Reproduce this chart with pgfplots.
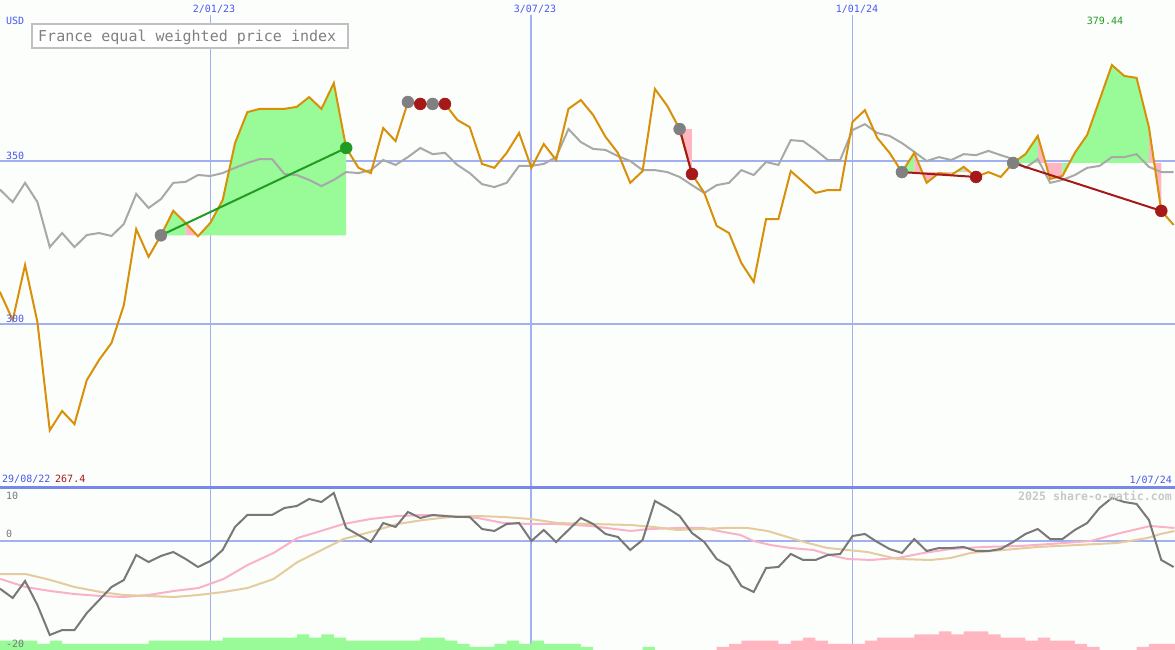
\documentclass[border=0pt]{standalone}
\usepackage{pgfplots}
\pgfplotsset{compat=1.18}
\usepackage{pgfplotstable}
\usepackage{fontspec}
\newfontfamily\mono{DejaVu Sans Mono}
\definecolor{orng}{RGB}{216,144,8}
\definecolor{gline}{RGB}{168,168,168}
\definecolor{dgrey}{RGB}{120,120,120}
\definecolor{pgreen}{RGB}{152,251,152}
\definecolor{ppink}{RGB}{255,182,193}
\definecolor{gridb}{RGB}{160,176,240}
\definecolor{sepb}{RGB}{120,136,232}
\definecolor{txtb}{RGB}{72,88,240}
\definecolor{dred}{RGB}{165,25,25}
\definecolor{dgreen}{RGB}{34,155,34}
\definecolor{dotgrey}{RGB}{128,128,128}
\definecolor{lpink}{RGB}{250,178,200}
\definecolor{tanc}{RGB}{228,204,158}
\definecolor{wm}{RGB}{200,200,200}
\definecolor{boxg}{RGB}{192,192,192}
\definecolor{bgc}{RGB}{252,254,252}
\newcommand\labf{\mono\fontsize{10bp}{12bp}\selectfont}

\pgfplotstableread{
i price ma
0 305.0 339.0
1 309.5 341.1
2 301.2 337.4
3 318.1 343.3
4 300.6 337.4
5 267.4 323.6
6 273.3 327.9
7 269.3 323.6
8 282.8 327.3
9 289.0 327.9
10 294.2 327.0
11 305.8 330.7
12 329.1 339.9
13 320.6 335.6
14 327.2 338.3
15 334.7 343.3
16 331.0 343.6
17 326.9 345.7
18 331.0 345.4
19 338.0 346.3
20 355.5 347.9
21 365.0 349.4
22 366.0 350.6
23 366.0 350.6
24 366.0 346.0
25 366.6 345.7
26 369.6 344.2
27 366.0 342.3
28 373.9 344.2
29 354.0 346.6
30 347.9 346.3
31 346.3 347.2
32 360.1 350.3
33 356.1 348.8
34 368.1 351.2
35 367.5 354.0
36 367.5 352.1
37 367.5 352.5
38 362.6 348.8
39 360.4 346.3
40 349.1 342.9
41 347.9 342.0
42 352.5 343.3
43 358.6 348.5
44 347.9 348.5
45 355.2 349.1
46 350.3 351.2
47 366.0 359.8
48 368.7 355.8
49 364.1 353.7
50 357.4 353.4
51 352.5 351.5
52 343.3 350.0
53 346.9 347.2
54 372.1 347.2
55 366.9 346.6
56 359.8 345.1
57 346.0 342.6
58 340.2 340.2
59 330.1 342.6
60 327.9 343.3
61 318.7 347.2
62 312.9 345.7
63 332.2 349.7
64 332.2 348.8
65 346.9 356.4
66 343.6 356.1
67 340.2 353.4
68 341.1 350.3
69 341.1 350.3
70 362.0 359.5
71 365.6 361.3
72 357.1 358.6
73 352.5 357.7
74 346.6 355.5
75 352.5 352.8
76 343.3 350.0
77 346.3 351.2
78 345.7 350.3
79 348.2 352.1
80 345.1 351.8
81 346.6 353.1
82 345.1 351.8
83 349.4 350.6
84 352.1 347.9
85 357.7 350.6
86 344.5 343.3
87 345.4 344.2
88 352.5 345.7
89 358.0 347.9
90 368.7 348.5
91 379.44 351.2
92 376.1 351.2
93 375.5 352.1
94 360.4 348.2
95 334.7 346.6
96 330.4 346.6
}\tblup

\pgfplotstableread{
i osc
0 -8.0
1 -8.97
2 -10.65
3 -7.48
4 -11.96
5 -17.57
6 -16.64
7 -16.64
8 -13.46
9 -11.03
10 -8.60
11 -7.29
12 -2.62
13 -3.93
14 -2.80
15 -2.06
16 -3.36
17 -4.86
18 -3.74
19 -1.68
20 2.62
21 4.86
22 4.86
23 4.86
24 6.17
25 6.54
26 7.85
27 7.29
28 8.97
29 2.43
30 1.12
31 -0.19
32 3.36
33 2.62
34 5.42
35 4.30
36 4.86
37 4.67
38 4.49
39 4.49
40 2.24
41 1.87
42 3.18
43 3.36
44 0.00
45 2.06
46 -0.19
47 2.06
48 4.30
49 3.18
50 1.31
51 0.75
52 -1.68
53 0.19
54 7.48
55 6.17
56 4.67
57 1.50
58 -0.19
59 -3.36
60 -4.67
61 -8.41
62 -9.53
63 -5.05
64 -4.86
65 -2.43
66 -3.55
67 -3.55
68 -2.62
69 -2.43
70 0.93
71 1.31
72 -0.19
73 -1.50
74 -2.24
75 0.37
76 -1.87
77 -1.31
78 -1.31
79 -1.12
80 -1.87
81 -1.87
82 -1.50
83 -0.19
84 1.31
85 2.24
86 0.37
87 0.37
88 2.06
89 3.36
90 6.17
91 8.04
92 7.29
93 6.92
94 3.93
95 -3.55
96 -4.86
}\tblosc

\pgfplotstableread{
i v
0.00 -6.80
1.01 -7.10
3.04 -8.60
5.06 -9.35
7.00 -9.91
9.11 -10.28
10.97 -10.47
12.99 -10.09
15.02 -9.35
17.04 -8.79
19.07 -7.10
21.01 -4.49
23.12 -2.24
25.06 0.56
26.68 1.68
28.79 3.18
30.97 4.11
33.16 4.67
35.26 4.86
37.45 4.67
39.64 4.30
41.74 3.36
43.93 3.18
46.11 3.18
48.79 2.80
52.02 1.87
53.64 2.24
55.83 2.43
57.94 2.43
59.55 1.68
60.93 1.12
61.98 0.00
63.36 -0.75
64.98 -1.31
66.84 -1.68
68.46 -2.80
69.60 -3.36
71.46 -3.55
73.64 -3.18
75.75 -2.24
77.94 -1.50
80.61 -1.12
83.60 -0.93
86.03 -0.56
89.27 0.00
91.70 1.50
94.13 2.80
96.07 2.43
}\tblpink

\pgfplotstableread{
i v
0.00 -6.17
1.01 -6.17
3.04 -6.17
5.06 -7.29
7.00 -8.60
9.11 -9.53
10.97 -10.09
12.99 -10.28
15.02 -10.47
17.04 -10.09
19.07 -9.53
21.01 -8.79
23.12 -7.10
25.06 -3.93
26.68 -2.06
28.79 0.37
30.97 1.68
33.16 3.18
35.26 3.93
37.45 4.49
39.64 4.67
41.74 4.49
43.93 4.11
46.11 3.36
48.79 3.18
52.02 2.99
53.89 2.62
55.83 2.06
57.69 2.24
59.55 2.43
61.50 2.43
63.12 1.87
64.74 0.75
66.36 -0.37
67.98 -1.31
69.60 -1.68
71.21 -2.06
73.64 -3.36
76.32 -3.55
77.94 -3.18
79.55 -2.24
82.23 -1.68
84.98 -1.12
88.22 -0.75
91.46 -0.37
93.89 0.56
94.94 1.31
96.07 1.87
}\tbltan

\pgfplotstableread{
i lev
0 3
1 3
2 3
3 3
4 2
5 3
6 2
7 2
8 2
9 2
10 2
11 2
12 2
13 3
14 3
15 3
16 3
17 3
18 3
19 4
20 4
21 4
22 4
23 4
24 4
25 5
26 4
27 5
28 4
29 3
30 3
31 3
32 3
33 3
34 3
35 4
36 4
37 3
38 2
39 1
40 1
41 2
42 3
43 2
44 3
45 2
46 2
47 2
48 1
49 0
50 0
51 0
52 0
53 1
54 0
}\tblgbar

\pgfplotstableread{
i lev
59 1
60 2
61 3
62 3
63 3
64 2
65 3
66 4
67 3
68 2
69 2
70 2
71 3
72 4
73 4
74 4
75 5
76 5
77 6
78 5
79 6
80 6
81 5
82 4
83 4
84 3
85 4
86 3
87 3
88 2
89 1
90 0
91 0
92 0
93 1
94 2
95 2
96 2
97 0
}\tblpbar

\begin{document}
\begin{tikzpicture}
\path[use as bounding box] (0,0) rectangle (1175bp,650bp);
\fill[bgc] (0,0) rectangle (1175bp,650bp);

% ---- bars (lower panel background)
\begin{axis}[at={(0,0)}, anchor=south west, scale only axis,
  width=1175bp, height=163bp, xmin=0.97, xmax=96.11, ymin=0, ymax=52.58,
  axis lines=none, ticks=none]
\draw[gridb, line width=1bp] (axis cs:18,0) -- (axis cs:18,52.58);
\draw[gridb, line width=2bp] (axis cs:44,0) -- (axis cs:44,52.58);
\draw[gridb, line width=1bp] (axis cs:70,0) -- (axis cs:70,52.58);
\addplot[const plot, fill=pgreen, draw=none] table[x=i, y=lev] {\tblgbar} \closedcycle;
\addplot[const plot, fill=ppink, draw=none] table[x=i, y=lev] {\tblpbar} \closedcycle;
\end{axis}

% ---- lower panel lines
\begin{axis}[at={(0,0)}, anchor=south west, scale only axis,
  width=1175bp, height=163bp, xmin=0.97, xmax=96.11, ymin=-20.37, ymax=10.09,
  axis lines=none, ticks=none]
\draw[gridb, line width=2bp] (axis cs:0.97,0) -- (axis cs:96.11,0);
\addplot[lpink, line width=2bp] table[x=i, y=v] {\tblpink};
\addplot[tanc, line width=2bp] table[x=i, y=v] {\tbltan};
\addplot[dgrey, line width=2bp] table[x=i, y=osc] {\tblosc};
\end{axis}

% ---- upper panel
\begin{axis}[at={(0,163bp)}, anchor=south west, scale only axis,
  width=1175bp, height=487bp, xmin=0.97, xmax=96.11, ymin=250, ymax=399.39,
  axis lines=none, ticks=none]
\draw[gridb, line width=2bp] (axis cs:0.97,350) -- (axis cs:96.11,350);
\draw[gridb, line width=2bp] (axis cs:0.97,300) -- (axis cs:96.11,300);
\draw[gridb, line width=1bp] (axis cs:18,394.8) -- (axis cs:18,250);
\draw[gridb, line width=2bp] (axis cs:44,394.8) -- (axis cs:44,250);
\draw[gridb, line width=1bp] (axis cs:70,394.8) -- (axis cs:70,250);
% trade 1 (base 327.2)
\addplot[fill=pgreen, draw=none] coordinates {(14,327.2) (15,334.7) (16,331.0) (16,327.2)} --cycle;
\addplot[fill=ppink, draw=none] coordinates {(16,327.2) (16,331.0) (17,326.9) (17,327.2)} --cycle;
\addplot[fill=pgreen, draw=none] coordinates {(17,327.2) (17,326.9) (18,331.0) (19,338.0) (20,355.5) (21,365.0) (22,366.0) (23,366.0) (24,366.0) (25,366.6) (26,369.6) (27,366.0) (28,373.9) (29,354.0) (29,327.2)} --cycle;
% trade 3 (base 359.8)
\addplot[fill=ppink, draw=none] coordinates {(56,359.8) (57,346.0) (57,359.8)} --cycle;
% trade 4 (base 346.6)
\addplot[fill=pgreen, draw=none] coordinates {(74,346.6) (75,352.5) (75,346.6)} --cycle;
\addplot[fill=ppink, draw=none] coordinates {(75,346.6) (75,352.5) (76,343.3) (77,346.3) (78,345.7) (78,346.6)} --cycle;
\addplot[fill=pgreen, draw=none] coordinates {(78,346.6) (78,345.7) (79,348.2) (79,346.6)} --cycle;
\addplot[fill=ppink, draw=none] coordinates {(79,346.6) (79,348.2) (80,345.1) (80,346.6)} --cycle;
% trade 5 (base 349.4)
\addplot[fill=pgreen, draw=none] coordinates {(83,349.4) (84,352.1) (85,357.7) (85,349.4)} --cycle;
\addplot[fill=ppink, draw=none] coordinates {(85,349.4) (85,357.7) (86,344.5) (87,345.4) (87,349.4)} --cycle;
\addplot[fill=pgreen, draw=none] coordinates {(87,349.4) (87,345.4) (88,352.5) (89,358.0) (90,368.7) (91,379.44) (92,376.1) (93,375.5) (94,360.4) (94,349.4)} --cycle;
\addplot[fill=ppink, draw=none] coordinates {(94,349.4) (94,360.4) (95,334.7) (95,349.4)} --cycle;
% series
\addplot[gline, line width=2bp] table[x=i, y=ma] {\tblup};
\addplot[orng, line width=2bp] table[x=i, y=price] {\tblup};
% trade lines
\addplot[dgreen, line width=2bp] coordinates {(14,327.2) (29,354.0)};
\addplot[dred, line width=2bp] coordinates {(34,368.1) (35,367.5)};
\addplot[dred, line width=2bp] coordinates {(36,367.5) (37,367.5)};
\addplot[dred, line width=2bp] coordinates {(56,359.8) (57,346.0)};
\addplot[dred, line width=2bp] coordinates {(74,346.6) (80,345.1)};
\addplot[dred, line width=2bp] coordinates {(83,349.4) (95,334.7)};
% dots
\addplot[only marks, mark=*, mark size=6bp, mark options={fill=dotgrey, draw=dotgrey}]
  coordinates {(14,327.2) (34,368.1) (36,367.5) (56,359.8) (74,346.6) (83,349.4)};
\addplot[only marks, mark=*, mark size=6bp, mark options={fill=dred, draw=dred}]
  coordinates {(35,367.5) (37,367.5) (57,346.0) (80,345.1) (95,334.7)};
\addplot[only marks, mark=*, mark size=6bp, mark options={fill=dgreen, draw=dgreen}]
  coordinates {(29,354.0)};
\end{axis}

% separator
\draw[sepb, line width=2.5bp] (0,162.7bp) -- (1175bp,162.7bp);

% texts
\node[anchor=base west, inner sep=0, text=txtb, font=\labf] at (6bp,625bp) {USD};
\node[anchor=base, inner sep=0, text=txtb, font=\labf] at (214bp,637bp) {2/01/23};
\node[anchor=base, inner sep=0, text=txtb, font=\labf] at (535bp,637bp) {3/07/23};
\node[anchor=base, inner sep=0, text=txtb, font=\labf] at (857bp,637bp) {1/01/24};
\node[anchor=base, inner sep=0, text=dgreen, font=\labf] at (1105bp,625bp) {379.44};
\draw[boxg, line width=2bp, fill=white] (32bp,602bp) rectangle (348bp,626bp);
\node[anchor=base west, inner sep=0, text=dotgrey, font={\mono\fontsize{15bp}{18bp}\selectfont}] at (38bp,608bp) {France equal weighted price index};
\node[anchor=base west, inner sep=0, text=txtb, font=\labf] at (6bp,490bp) {350};
\node[anchor=base west, inner sep=0, text=txtb, font=\labf] at (6bp,327bp) {300};
\node[anchor=base west, inner sep=0, text=txtb, font=\labf] at (2bp,167bp) {29/08/22};
\node[anchor=base west, inner sep=0, text=dred, font=\labf] at (55bp,167bp) {267.4};
\node[anchor=base east, inner sep=0, text=txtb, font=\labf] at (1172bp,166bp) {1/07/24};
\node[anchor=base west, inner sep=0, text=dgrey, font=\labf] at (6bp,150bp) {10};
\node[anchor=base west, inner sep=0, text=dgrey, font=\labf] at (6bp,112bp) {0};
\node[anchor=base west, inner sep=0, text=dgrey, font=\labf] at (6bp,3bp) {-20};
\node[anchor=base east, inner sep=0, text=wm, font={\mono\bfseries\fontsize{11.6bp}{14bp}\selectfont}] at (1172bp,149bp) {2025 share-o-matic.com};
\end{tikzpicture}
\end{document}
